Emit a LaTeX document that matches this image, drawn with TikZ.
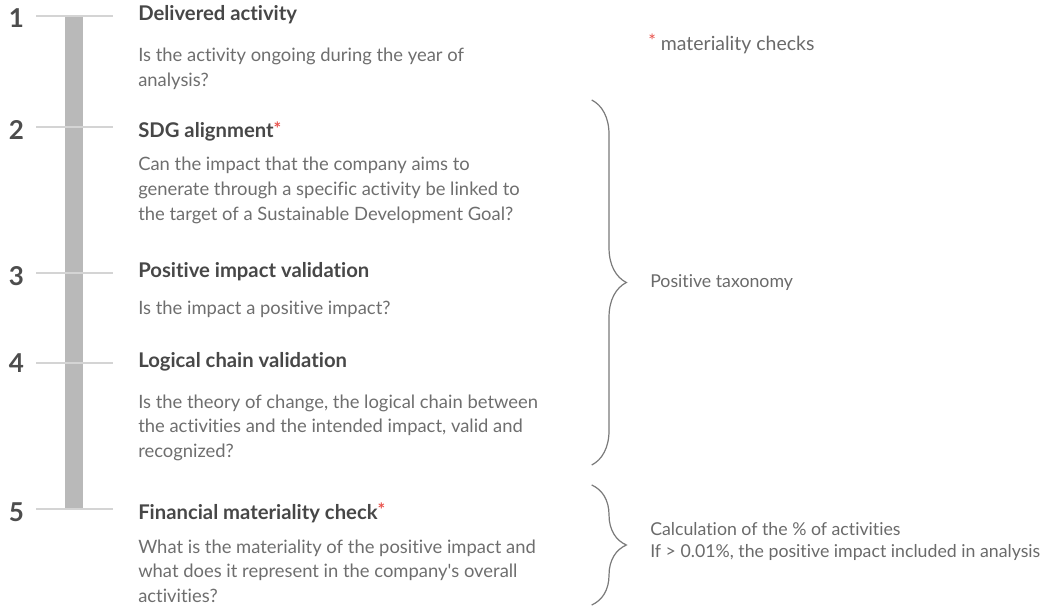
\documentclass[tikz,border=0pt]{standalone}
\usepackage{fontspec}
\setmainfont{Lato}[Ligatures={NoCommon}]
\usetikzlibrary{decorations.pathreplacing}

\definecolor{numcol}{HTML}{4D4D4D}
\definecolor{titlecol}{HTML}{474747}
\definecolor{bodycol}{HTML}{6E6E6E}
\definecolor{sidecol}{HTML}{6A6A6A}
\definecolor{barcol}{HTML}{B9B9B9}
\definecolor{rungcol}{HTML}{D4D4D4}
\definecolor{bracecol}{HTML}{7A7A7A}
\definecolor{astred}{HTML}{E8504A}

\newcommand{\matstar}{{\color{astred}\fontsize{13.5}{13.5}\selectfont\raisebox{0.15em}{*}}}

\begin{document}
\begin{tikzpicture}[
    x=0.75pt, y=-0.75pt,
    stepnum/.style={
        anchor=base, 
        inner sep=0pt, 
        text=numcol, 
        font=\fontsize{19.5}{22}\selectfont\bfseries
    },
    steptitle/.style={
        anchor=base west, 
        inner sep=0pt, 
        text=titlecol, 
        font=\fontsize{15.2}{18}\selectfont\bfseries
    },
    question/.style={
        anchor=base west, 
        inner sep=0pt, 
        align=left, 
        text=bodycol, 
        font=\fontsize{13.8}{18.6}\selectfont
    },
    sidenote/.style={
        anchor=base west, 
        inner sep=0pt, 
        align=left, 
        text=sidecol, 
        font=\fontsize{13.3}{16.5}\selectfont
    },
    rung/.style={draw=rungcol, line width=1.4pt},
    curly/.style={
        draw=bracecol, 
        line width=0.9pt, 
        decorate, 
        decoration={brace, amplitude=26pt}
    }
]
    \useasboundingbox (0,0) rectangle (1047,606);

    % Barra verticale
    \fill[barcol] (65,16) rectangle (83,509);

    % Tacche
    \draw[rung] (36,15.7) -- (113,15.7);
    \draw[rung] (36,127.3) -- (113,127.3);
    \draw[rung] (36,273.3) -- (113,273.3);
    \draw[rung] (36,363.3) -- (113,363.3);
    \draw[rung] (36,509.3) -- (113,509.3);

    % Numeri
    \node[stepnum] (n1) at (16.5,28) {1};
    \node[stepnum] (n2) at (16.5,140) {2};
    \node[stepnum] (n3) at (16.5,286) {3};
    \node[stepnum] (n4) at (16.5,373) {4};
    \node[stepnum] (n5) at (16.5,521) {5};

    % Passi (ancorati alla linea di base dell'ultima riga)
    \node[steptitle] (t1) at (138,21) {Delivered activity};
    \node[question] (q1) at (138,86.8) 
         {Is the activity ongoing during the year of\\analysis?};

    \node[steptitle] (t2) at (138,138) {SDG alignment\matstar};
    \node[question] (q2) at (138,220.6) 
         {Can the impact that the company aims to\\generate through a specific activity be linked to\\the target of a Sustainable Development Goal?};

    \node[steptitle] (t3) at (138,278) {Positive impact validation};
    \node[question] (q3) at (138,315) {Is the impact a positive impact?};

    \node[steptitle] (t4) at (138,368) {Logical chain validation};
    \node[question] (q4) at (138,457.6) 
         {Is the theory of change, the logical chain between\\the activities and the intended impact, valid and\\recognized?};

    \node[steptitle] (t5) at (138,519) {Financial materiality check\matstar};
    \node[question] (q5) at (138,602.6) 
         {What is the materiality of the positive impact and\\what does it represent in the company\textquotesingle s overall\\activities?};

    % Graffe e note
    \node[sidenote, font=\fontsize{14.6}{17}\selectfont] (legend) at (648,50.5) 
         {\matstar\ materiality checks};

    \coordinate (b1top) at (591.7,100);
    \coordinate (b1bot) at (591.7,465);
    \draw[curly] (b1top) -- (b1bot);
    \node[sidenote] (taxo) at (650,287) {Positive taxonomy};

    \coordinate (b2top) at (591.7,485);
    \coordinate (b2bot) at (591.7,605);
    \draw[curly] (b2top) -- (b2bot);
    \node[sidenote] (calc) at (650,557) 
         {Calculation of the \% of activities\\If > 0.01\%, the positive impact included in analysis};
\end{tikzpicture}
\end{document}
